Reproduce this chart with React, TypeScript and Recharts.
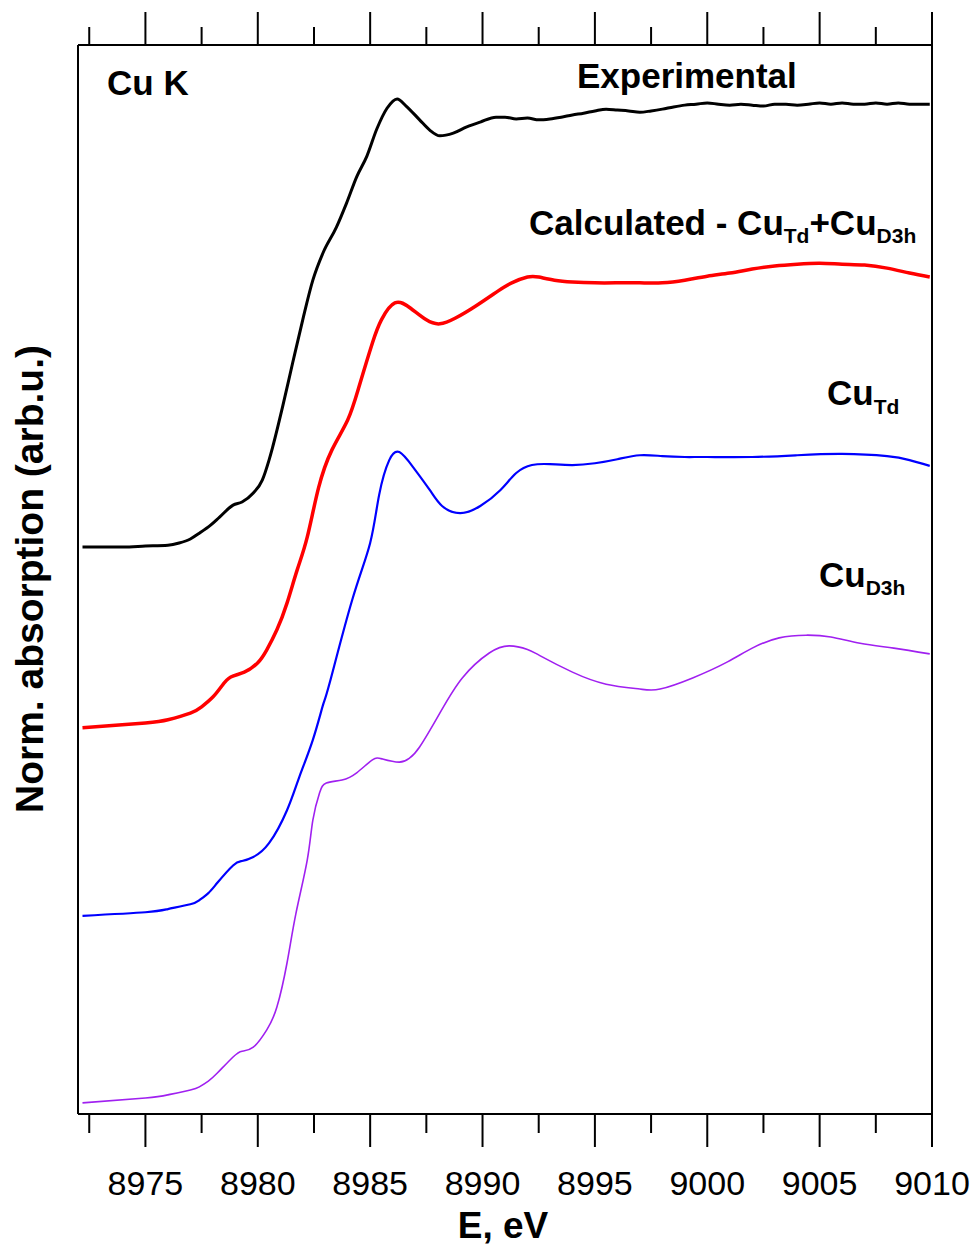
import React from 'react';
import { LineChart, Line, XAxis, YAxis } from 'recharts';

// Cu K-edge XANES, energies in eV, absorption in arb.u. (curves stacked with offsets)
const eExp = [
  8972.2, 8974.0, 8975.0, 8976.0, 8976.5, 8977.0, 8977.4, 8977.9, 8978.3, 8978.9, 8979.3, 8979.8,
  8980.2, 8980.5, 8980.65, 8981.1, 8981.55, 8982.0, 8982.45, 8982.9, 8983.5, 8983.95, 8984.4,
  8984.85, 8985.3, 8985.75, 8986.2, 8986.6, 8987.2, 8987.65, 8988.1, 8988.7, 8989.3, 8989.9,
  8990.6, 8991.0, 8991.5, 8992.0, 8992.5, 8993.0, 8993.5, 8994.0, 8994.5, 8995.0, 8995.5,
  8996.0, 8996.5, 8997.0, 8997.5, 8998.0, 8998.5, 8999.0, 8999.5, 9000.0, 9000.5, 9001.0,
  9001.5, 9002.0, 9002.5, 9003.0, 9003.5, 9004.0, 9004.5, 9005.0, 9005.5, 9006.0, 9006.5,
  9007.0, 9007.5, 9008.0, 9008.5, 9009.0, 9009.5, 9009.9,
];
const muExp = [
  1.273, 1.273, 1.275, 1.277, 1.282, 1.291, 1.304, 1.322, 1.34, 1.367, 1.374, 1.394,
  1.423, 1.468, 1.495, 1.587, 1.686, 1.783, 1.872, 1.933, 1.991, 2.045, 2.104,
  2.15, 2.212, 2.258, 2.279, 2.263, 2.232, 2.209, 2.196, 2.202, 2.216, 2.227,
  2.238, 2.238, 2.234, 2.236, 2.232, 2.234, 2.238, 2.243, 2.247, 2.252, 2.256,
  2.254, 2.252, 2.249, 2.252, 2.256, 2.261, 2.265, 2.267, 2.27, 2.267, 2.265,
  2.267, 2.265, 2.263, 2.267, 2.267, 2.265, 2.267, 2.27, 2.267, 2.27, 2.267,
  2.267, 2.27, 2.267, 2.27, 2.267, 2.267, 2.267,
];

const eCalc = [
  8972.2, 8975.0, 8976.0, 8977.0, 8977.5, 8978.0, 8978.4, 8978.8, 8979.4, 8980.0, 8980.4,
  8980.85, 8981.3, 8981.75, 8982.2, 8982.7, 8983.3, 8984.0, 8984.5, 8985.1, 8985.5, 8986.1,
  8986.8, 8987.5, 8988.1, 8988.8, 8989.7, 8990.7, 8991.3, 8992.0, 8992.5, 8993.2, 8994.0,
  8995.0, 8996.0, 8997.0, 8998.0, 8999.0, 9000.0, 9001.0, 9002.0, 9003.0, 9004.0, 9005.0,
  9006.0, 9007.0, 9008.0, 9009.0, 9009.9,
];
const muCalc = [
  0.867, 0.878, 0.885, 0.9, 0.914, 0.936, 0.961, 0.981, 0.992, 1.013, 1.042,
  1.087, 1.147, 1.221, 1.295, 1.405, 1.491, 1.558, 1.632, 1.731, 1.783, 1.821,
  1.809, 1.783, 1.774, 1.787, 1.814, 1.848, 1.866, 1.879, 1.879, 1.872, 1.868,
  1.866, 1.866, 1.866, 1.866, 1.872, 1.881, 1.888, 1.897, 1.904, 1.908, 1.91,
  1.908, 1.906, 1.899, 1.888, 1.879,
];

const eTd = [
  8972.2, 8975.0, 8976.0, 8977.0, 8977.4, 8977.8, 8978.2, 8978.9, 8979.3, 8979.8, 8980.5,
  8981.3, 8981.85, 8982.45, 8982.9, 8983.2, 8984.2, 8985.0, 8985.4, 8985.85, 8986.3, 8986.9,
  8987.65, 8988.2, 8989.0, 8989.9, 8990.8, 8991.5, 8992.2, 8993.0, 8994.0, 8995.0, 8996.0,
  8997.0, 8998.0, 8999.0, 9000.0, 9002.0, 9004.0, 9006.0, 9008.0, 9009.0, 9009.9,
];
const muTd = [
  0.445, 0.453, 0.46, 0.471, 0.48, 0.496, 0.519, 0.558, 0.568, 0.577, 0.608,
  0.682, 0.757, 0.84, 0.918, 0.968, 1.154, 1.282, 1.39, 1.468, 1.486, 1.453,
  1.401, 1.365, 1.349, 1.365, 1.401, 1.439, 1.457, 1.459, 1.457, 1.461, 1.47,
  1.479, 1.477, 1.475, 1.475, 1.475, 1.479, 1.482, 1.477, 1.468, 1.455,
];

const eD3h = [
  8972.2, 8975.0, 8976.0, 8977.0, 8977.4, 8977.8, 8978.2, 8978.9, 8979.3, 8979.8, 8980.4,
  8980.85, 8981.3, 8981.7, 8982.2, 8982.45, 8982.75, 8983.05, 8983.75, 8984.4, 8985.1, 8985.55,
  8986.3, 8986.75, 8987.2, 8988.1, 8989.1, 8990.3, 8991.2, 8992.0, 8992.55, 8994.0, 8995.5,
  8997.0, 8997.9, 8999.35, 9000.9, 9002.0, 9003.2, 9004.4, 9005.5, 9006.8, 9008.3, 9009.9,
];
const muD3h = [
  0.025, 0.036, 0.043, 0.054, 0.061, 0.074, 0.092, 0.128, 0.141, 0.15, 0.189,
  0.24, 0.339, 0.451, 0.57, 0.66, 0.721, 0.743, 0.75, 0.766, 0.795, 0.797,
  0.79, 0.799, 0.824, 0.9, 0.979, 1.035, 1.051, 1.043, 1.029, 0.992, 0.965,
  0.954, 0.954, 0.979, 1.015, 1.046, 1.069, 1.075, 1.071, 1.057, 1.046, 1.033,
];

const energyTicks = [
  8972.5, 8975, 8977.5, 8980, 8982.5, 8985, 8987.5, 8990, 8992.5, 8995,
  8997.5, 9000, 9002.5, 9005, 9007.5, 9010,
];

const toRows = (e: number[], mu: number[]) => e.map((v, i) => ({ e: v, mu: mu[i] }));

const FONT = '"Liberation Sans", Arial, sans-serif';

const BottomTick = (props: any) => {
  const { x, y, payload } = props;
  const major = payload.value % 5 === 0;
  return (
    <g>
      <line x1={x} x2={x} y1={y} y2={y + (major ? 33 : 19)} stroke="#000" strokeWidth={2} />
      {major && (
        <text x={x} y={y + 81} textAnchor="middle" fontSize={34} fontFamily={FONT} fill="#000">
          {payload.value}
        </text>
      )}
    </g>
  );
};

const TopTick = (props: any) => {
  const { x, y, payload } = props;
  const major = payload.value % 5 === 0;
  return <line x1={x} x2={x} y1={y} y2={y - (major ? 33 : 18)} stroke="#000" strokeWidth={2} />;
};

const subStyle = { fontSize: 21 };

export default function App() {
  return (
    <div style={{ position: 'absolute', left: 0, top: 0, width: 979, height: 1249, background: '#fff' }}>
      <LineChart width={979} height={1249} margin={{ top: 0, right: 0, bottom: 0, left: 0 }}>
        <XAxis
          xAxisId="bottom"
          dataKey="e"
          type="number"
          domain={[8972, 9010]}
          allowDataOverflow
          ticks={energyTicks}
          interval={0}
          height={135}
          tickSize={0}
          tickMargin={0}
          tickLine={false}
          axisLine={{ stroke: '#000', strokeWidth: 2 }}
          tick={<BottomTick />}
        />
        <XAxis
          xAxisId="top"
          orientation="top"
          dataKey="e"
          type="number"
          domain={[8972, 9010]}
          allowDataOverflow
          ticks={energyTicks}
          interval={0}
          height={45}
          tickSize={0}
          tickMargin={0}
          tickLine={false}
          axisLine={{ stroke: '#000', strokeWidth: 2 }}
          tick={<TopTick />}
        />
        <YAxis
          yAxisId="left"
          type="number"
          domain={[0, 2.4]}
          allowDataOverflow
          width={78}
          tick={false}
          tickLine={false}
          axisLine={{ stroke: '#000', strokeWidth: 2 }}
        />
        <YAxis
          yAxisId="right"
          orientation="right"
          type="number"
          domain={[0, 2.4]}
          allowDataOverflow
          width={47}
          tick={false}
          tickLine={false}
          axisLine={{ stroke: '#000', strokeWidth: 2 }}
        />
        <Line xAxisId="bottom" yAxisId="left" data={toRows(eD3h, muD3h)} dataKey="mu" type="natural"
          stroke="#a020f0" strokeWidth={1.6} dot={false} isAnimationActive={false} />
        <Line xAxisId="bottom" yAxisId="left" data={toRows(eTd, muTd)} dataKey="mu" type="natural"
          stroke="#0000ff" strokeWidth={2.2} dot={false} isAnimationActive={false} />
        <Line xAxisId="bottom" yAxisId="left" data={toRows(eCalc, muCalc)} dataKey="mu" type="natural"
          stroke="#ff0000" strokeWidth={3.5} dot={false} isAnimationActive={false} />
        <Line xAxisId="bottom" yAxisId="left" data={toRows(eExp, muExp)} dataKey="mu" type="monotone"
          stroke="#000000" strokeWidth={3} dot={false} isAnimationActive={false} />
      </LineChart>

      <svg width={979} height={1249} style={{ position: 'absolute', left: 0, top: 0, pointerEvents: 'none' }}
        fontFamily={FONT} fontWeight="bold" fill="#000">
        <text x={107} y={95} fontSize={35}>Cu K</text>
        <text x={577} y={88} fontSize={35}>Experimental</text>
        <text x={529} y={235} fontSize={35}>
          Calculated - Cu
          <tspan dy={8} style={subStyle}>Td</tspan>
          <tspan dy={-8}>+Cu</tspan>
          <tspan dy={8} style={subStyle}>D3h</tspan>
        </text>
        <text x={827} y={405} fontSize={35}>
          Cu<tspan dy={9} style={subStyle}>Td</tspan>
        </text>
        <text x={819} y={587} fontSize={35}>
          Cu<tspan dy={8} style={subStyle}>D3h</tspan>
        </text>
        <text x={503} y={1238} fontSize={37} textAnchor="middle">E, eV</text>
        <text transform="translate(43,579) rotate(-90)" fontSize={39} textAnchor="middle">
          Norm. absorption (arb.u.)
        </text>
      </svg>
    </div>
  );
}
